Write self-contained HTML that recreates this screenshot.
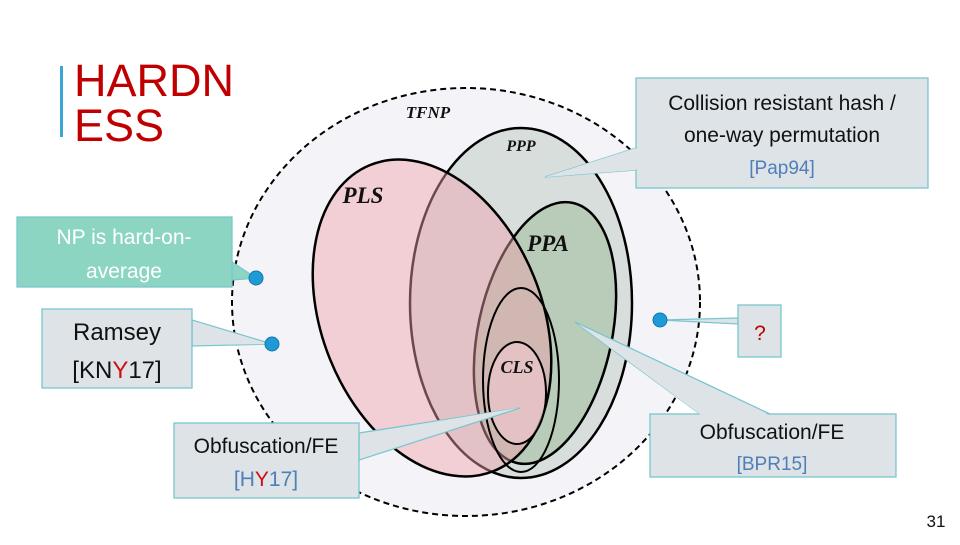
<!DOCTYPE html>
<html><head><meta charset="utf-8"><style>
body{margin:0;width:960px;height:540px;background:#fff;overflow:hidden;font-family:"Liberation Sans",sans-serif}
</style></head><body>
<svg width="960" height="540" viewBox="0 0 960 540" xmlns="http://www.w3.org/2000/svg">
<rect x="60" y="66" width="3" height="71" fill="#3aa6d6"/>
<text x="74" y="96" font-family="Liberation Sans" font-size="45" fill="#c00000">HARDN</text>
<text x="74" y="141" font-family="Liberation Sans" font-size="45" fill="#c00000">ESS</text>
<ellipse cx="466" cy="302" rx="234" ry="214" fill="#f4f4f8" stroke="#000" stroke-width="2" stroke-dasharray="6,4"/>
<ellipse cx="521" cy="303" rx="111" ry="175" fill="#d8dedc" stroke="#000" stroke-width="2.5"/>
<ellipse cx="545" cy="333" rx="67" ry="133" transform="rotate(12 545 333)" fill="#b9cbb9" stroke="#000" stroke-width="2.5"/>
<ellipse cx="432" cy="318" rx="110" ry="165" transform="rotate(-22 432 318)" fill="rgba(240,160,170,0.45)" stroke="#000" stroke-width="2.5"/>
<ellipse cx="521" cy="380" rx="38" ry="92" fill="none" stroke="#000" stroke-width="2"/>
<ellipse cx="517" cy="393" rx="29" ry="51" fill="rgba(240,200,205,0.6)" stroke="#000" stroke-width="2"/>
<g font-family="Liberation Serif" font-style="italic" font-weight="bold" fill="#111">
<text x="428" y="118" font-size="17" text-anchor="middle">TFNP</text>
<text x="521" y="151" font-size="16" text-anchor="middle">PPP</text>
<text x="363" y="203" font-size="23" text-anchor="middle">PLS</text>
<text x="548" y="251" font-size="23" text-anchor="middle">PPA</text>
<text x="517" y="373" font-size="18" text-anchor="middle">CLS</text>
</g>
<!-- callouts -->
<g stroke="#79c6cf" stroke-width="1.3">
<polygon points="636,148 545,177 636,170" fill="#dde3e6"/>
<rect x="636" y="78" width="292" height="110" fill="#dde3e6"/>
<polygon points="636,148 545,177 636,170" fill="#dde3e6" stroke="none"/>
<polygon points="232,262 256,278 232,280" fill="#8dd5c3"/>
<rect x="17" y="217" width="215" height="70" fill="#8dd5c3"/>
<polygon points="192,320 272,344 192,346" fill="#dde3e6"/>
<rect x="42" y="309" width="150" height="79" fill="#dde3e6"/>
<polygon points="738,318 660,320 738,324" fill="#dde3e6"/>
<rect x="738" y="305" width="43" height="52" fill="#dde3e6"/>
<polygon points="359,433 520,408 359,460" fill="#dde3e6"/>
<rect x="174" y="423" width="185" height="75" fill="#dde3e6"/>
<polygon points="700,414 575,322 770,414" fill="#dde3e6"/>
<rect x="650" y="414" width="246" height="63" fill="#dde3e6"/>
</g>
<polygon points="637,149 547,177 637,169" fill="#dde3e6"/>
<polygon points="233,263 254,278 233,279" fill="#8dd5c3"/>
<polygon points="193,321 270,344 193,345" fill="#dde3e6"/>
<polygon points="360,434 518,408 360,459" fill="#dde3e6"/>
<polygon points="701,415 578,324 769,415" fill="#dde3e6"/>
<g fill="#1e9ad6" stroke="#1677aa" stroke-width="1">
<circle cx="256" cy="278" r="7"/><circle cx="272" cy="344" r="7"/><circle cx="660" cy="320" r="7"/>
</g>
<g font-family="Liberation Sans" text-anchor="middle" font-size="21">
<text x="782" y="110" fill="#111">Collision resistant hash /</text>
<text x="782" y="142" fill="#111">one-way permutation</text>
<text x="782" y="174" fill="#4f7fb8" font-size="19">[Pap94]</text>
<text x="124" y="244" fill="#fff">NP is hard-on-</text>
<text x="124" y="278" fill="#fff">average</text>
<text x="117" y="340" fill="#111" font-size="24">Ramsey</text>
<text x="117" y="378" fill="#111" font-size="24">[KN<tspan fill="#d01010">Y</tspan>17]</text>
<text x="760" y="340" fill="#c00000">?</text>
<text x="266" y="453" fill="#111">Obfuscation/FE</text>
<text x="266" y="486" fill="#4f7fb8">[H<tspan fill="#d01010">Y</tspan>17]</text>
<text x="772" y="439" fill="#111">Obfuscation/FE</text>
<text x="772" y="470" fill="#4f7fb8" font-size="19">[BPR15]</text>
<text x="936" y="527" fill="#111" font-size="17">31</text>
</g>
</svg>
</body></html>
